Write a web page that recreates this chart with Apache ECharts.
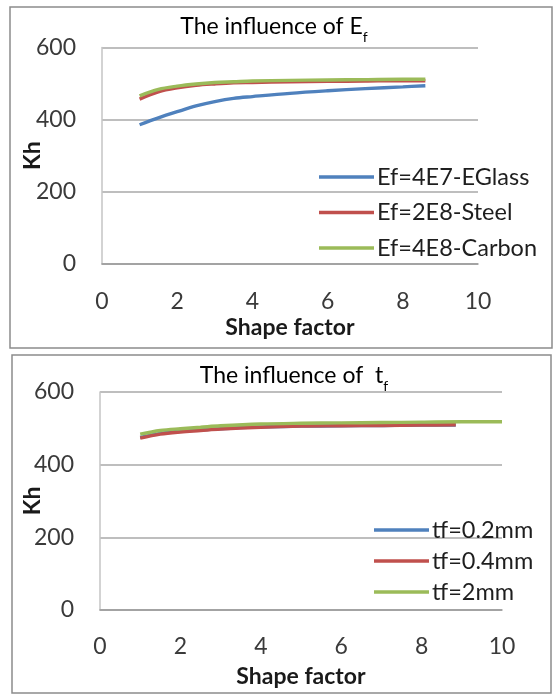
<!DOCTYPE html>
<html>
<head>
<meta charset="utf-8">
<script src="https://cdn.jsdelivr.net/npm/echarts@6/dist/echarts.min.js"></script>
<style>
  html, body { margin: 0; padding: 0; background: #fff; }
  #chart { width: 556px; height: 695px; }
</style>
</head>
<body>
<div id="chart"></div>
<script>
// Panel 1: influence of the fibre modulus Ef
const shapeFactorEf = [1, 1.5, 2, 2.5, 3, 3.5, 4, 5, 6, 7, 8, 8.6];
const khEGlass = [386, 405, 422, 438, 450, 459, 464, 473, 480, 486, 491, 494];
const khSteel  = [457, 477, 488, 495, 499, 502, 503, 505, 506, 507, 508, 508];
const khCarbon = [466, 484, 493, 499, 503, 505, 507, 509, 510, 511, 512, 512];
const namesEf = ['Ef=4E7-EGlass', 'Ef=2E8-Steel', 'Ef=4E8-Carbon'];

// Panel 2: influence of the fibre thickness tf
const shapeFactorThin = [1, 1.5, 2, 2.5, 3, 4, 5, 6, 7, 8, 8.85];
const shapeFactorThick = [1, 1.5, 2, 2.5, 3, 4, 5, 6, 7, 8, 9, 10];
const khTf02 = [475, 486, 492, 496, 499, 504, 506, 507, 508, 509, 509];
const khTf04 = [473, 484, 490, 494, 498, 503, 506, 507, 508, 509, 510];
const khTf2  = [484, 494, 499, 503, 507, 512, 514, 515, 516, 517, 518, 518];
const namesTf = ['tf=0.2mm', 'tf=0.4mm', 'tf=2mm'];

const xTicks = [0, 2, 4, 6, 8, 10];
const yTicks = [0, 200, 400, 600];

const FONT = 'Lato, "Open Sans", sans-serif';
const COLORS = ['#4F81BD', '#C0504D', '#9BBB59'];

const pairs = (xs, ys) => ys.map((y, i) => [xs[i], y]);

function xAxisFor(gridIndex, nameGap, margin) {
  return {
    gridIndex, type: 'value',
    min: xTicks[0], max: xTicks[xTicks.length - 1], interval: xTicks[1] - xTicks[0],
    name: 'Shape factor', nameLocation: 'middle', nameGap, nameMoveOverlap: false,
    nameTextStyle: { fontFamily: FONT, fontWeight: 'bold', fontSize: 23, color: '#1a1a1a' },
    axisLine: { show: true, lineStyle: { color: '#9a9a9a', width: 1.5 } },
    axisTick: { show: false },
    splitLine: { show: false },
    axisLabel: { fontFamily: FONT, fontSize: 23, color: '#3a3a3a', margin }
  };
}
function yAxisFor(gridIndex, nameGap) {
  return {
    gridIndex, type: 'value',
    min: yTicks[0], max: yTicks[yTicks.length - 1], interval: yTicks[1] - yTicks[0],
    name: 'Kh', nameLocation: 'middle', nameGap, nameRotate: 90, nameMoveOverlap: false,
    nameTextStyle: { fontFamily: FONT, fontWeight: 'bold', fontSize: 23, color: '#1a1a1a' },
    axisLine: { show: true, lineStyle: { color: '#c4c4c4', width: 1.5 } },
    axisTick: { show: false },
    splitLine: { show: true, lineStyle: { color: '#a8a8a8', width: 1.5 } },
    axisLabel: { fontFamily: FONT, fontSize: 23, color: '#3a3a3a', margin: 26 }
  };
}
function lineSeries(name, xi, data, color) {
  return {
    name, type: 'line', xAxisIndex: xi, yAxisIndex: xi, data,
    smooth: 0.35, showSymbol: false, symbol: 'none',
    lineStyle: { color, width: 3.4 }, itemStyle: { color },
    emphasis: { disabled: true }, animation: false
  };
}
function legendFor(names, left, top, gap) {
  return {
    data: names, orient: 'vertical', left, top, itemGap: gap, padding: 0,
    icon: 'rect', itemWidth: 55, itemHeight: 3.5,
    textStyle: { fontFamily: FONT, fontSize: 23.5, color: '#1e1e1e', padding: [0, 0, 0, -2] },
    selectedMode: false
  };
}
function titleText(x, y, main, sub) {
  return {
    type: 'text', x, y,
    style: {
      text: '{m|' + main + '}{s|' + sub + '}',
      align: 'center', verticalAlign: 'middle',
      rich: {
        m: { fontFamily: FONT, fontSize: 23, color: '#222', lineHeight: 29, verticalAlign: 'top' },
        s: { fontFamily: FONT, fontSize: 14, color: '#222', lineHeight: 29, verticalAlign: 'bottom' }
      }
    }
  };
}

const chart = echarts.init(document.getElementById('chart'), null, { renderer: 'canvas' });
chart.setOption({
  backgroundColor: '#ffffff',
  animation: false,
  color: COLORS,
  graphic: [
    { type: 'rect', shape: { x: 10, y: 7, width: 542, height: 341 },
      style: { fill: 'none', stroke: '#8c8c8c', lineWidth: 1.5 }, z: -1 },
    { type: 'rect', shape: { x: 12, y: 355, width: 539, height: 338 },
      style: { fill: 'none', stroke: '#8c8c8c', lineWidth: 1.5 }, z: -1 },
    titleText(274, 30, 'The influence of E', 'f'),
    titleText(294, 379, 'The influence of  t', 'f')
  ],
  grid: [
    { left: 102, right: 78, top: 47.5, bottom: 431 },
    { left: 100, right: 54, top: 392, bottom: 85 }
  ],
  xAxis: [xAxisFor(0, 52, 26), xAxisFor(1, 55, 25)],
  yAxis: [yAxisFor(0, 58), yAxisFor(1, 56)],
  legend: [
    legendFor(namesEf, 319, 165, 11.5),
    legendFor(namesTf, 374, 518, 7)
  ],
  series: [
    lineSeries(namesEf[0], 0, pairs(shapeFactorEf, khEGlass), COLORS[0]),
    lineSeries(namesEf[1], 0, pairs(shapeFactorEf, khSteel), COLORS[1]),
    lineSeries(namesEf[2], 0, pairs(shapeFactorEf, khCarbon), COLORS[2]),
    lineSeries(namesTf[0], 1, pairs(shapeFactorThin, khTf02), COLORS[0]),
    lineSeries(namesTf[1], 1, pairs(shapeFactorThin, khTf04), COLORS[1]),
    lineSeries(namesTf[2], 1, pairs(shapeFactorThick, khTf2), COLORS[2])
  ]
});
</script>
</body>
</html>
